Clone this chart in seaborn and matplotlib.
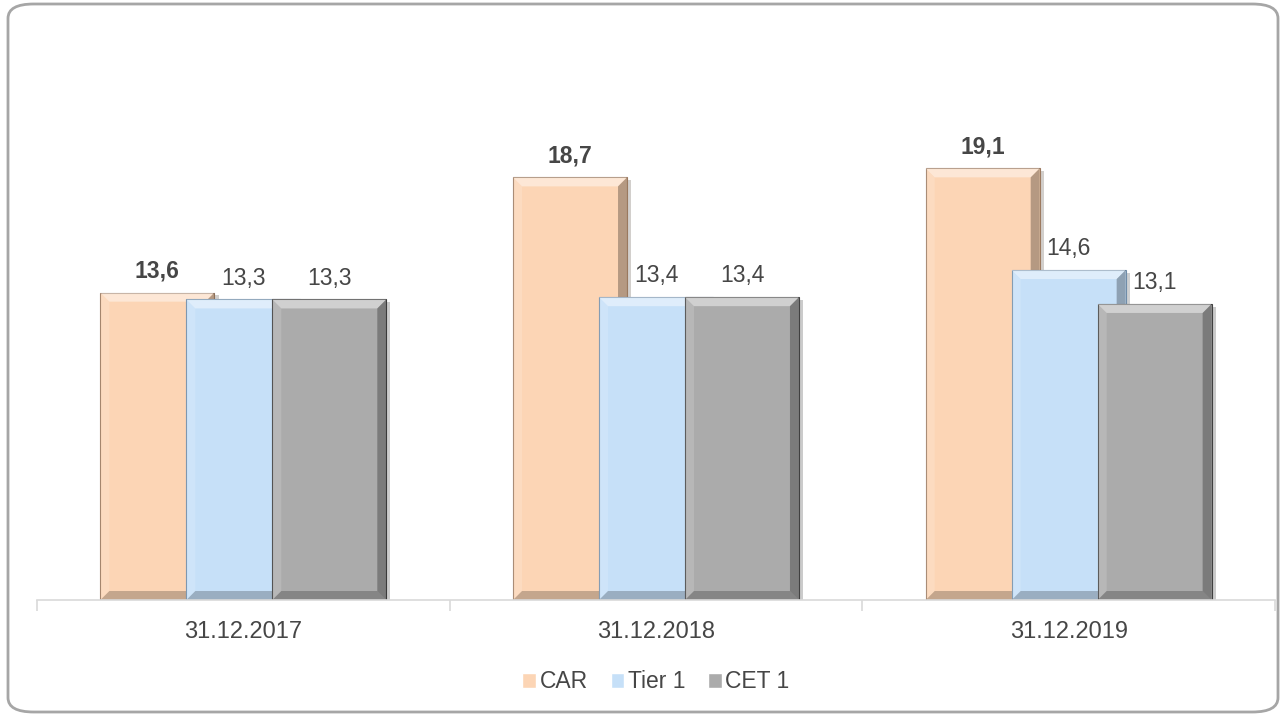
import pandas as pd
import numpy as np
import matplotlib.pyplot as plt
import matplotlib.patheffects as pe
from matplotlib.patches import FancyBboxPatch, Polygon
import seaborn as sns

# data
dates = ['31.12.2017', '31.12.2018', '31.12.2019']
series = ['CAR', 'Tier 1', 'CET 1']
car = [13.6, 18.7, 19.1]
tier1 = [13.3, 13.4, 14.6]
cet1 = [13.3, 13.4, 13.1]

colors = ['#FCD5B5', '#C6E0F8', '#ABABAB']
edges = ['#9C7A60', '#6F8CA8', '#404040']

df = pd.DataFrame({
    'date': dates * 3,
    'series': [s for s in series for _ in dates],
    'value': car + tier1 + cet1,
})

sns.set_style('white')
plt.rcParams['font.family'] = ['Liberation Sans', 'DejaVu Sans']
txt = '#464646'

fig = plt.figure(figsize=(12.86, 7.16), dpi=100)
ax = fig.add_axes([37 / 1286, 116 / 716, 1238 / 1286, 565 / 716])

sns.barplot(data=df, x='date', y='value', hue='series', hue_order=series,
            palette=colors, width=0.625, saturation=1, ax=ax, legend=True)

ax.set_xlim(-0.5, 2.5)
ax.set_ylim(0, 25)

# bevel size in data units (about 9 px)
bx = 9 / 412.7
by = 9 / 22.6


def bevel(x0, x1, top, z):
    shapes = [
        ([(x0, top), (x1, top), (x1 - bx, top - by), (x0 + bx, top - by)], 'white', 0.45),
        ([(x0, 0), (x0, top), (x0 + bx, top - by), (x0 + bx, by)], 'white', 0.15),
        ([(x1, 0), (x1, top), (x1 - bx, top - by), (x1 - bx, by)], 'black', 0.28),
        ([(x0, 0), (x1, 0), (x1 - bx, by), (x0 + bx, by)], 'black', 0.22),
    ]
    for pts, c, a in shapes:
        ax.add_patch(Polygon(pts, closed=True, facecolor=c, alpha=a,
                             edgecolor='none', zorder=z + 0.01))


# Excel-style overlapping bars: widen each bar around its centre
bar_w = 114 / 412.7
for i, cont in enumerate(ax.containers):
    for j, p in enumerate(cont.patches):
        cx = p.get_x() + p.get_width() / 2
        p.set_x(cx - bar_w / 2)
        p.set_width(bar_w)
        p.set_edgecolor(edges[i])
        p.set_linewidth(0.8)
        z = 2 + i
        p.set_zorder(z)
        p.set_path_effects([pe.SimplePatchShadow(offset=(3, -2), alpha=0.25), pe.Normal()])
        val = cont.datavalues[j]
        bevel(cx - bar_w / 2, cx + bar_w / 2, val, z)
        ax.annotate(f'{val:.1f}'.replace('.', ','), (cx, val), xytext=(0, 7),
                    textcoords='offset points', ha='center', va='bottom',
                    fontsize=16.5, color=txt,
                    fontweight='bold' if i == 0 else 'normal')

ax.set_xlabel('')
ax.set_ylabel('')
ax.set_yticks([])
for s in ['top', 'right', 'left']:
    ax.spines[s].set_visible(False)
ax.spines['bottom'].set_color('#D9D9D9')
ax.spines['bottom'].set_linewidth(1.2)
ax.spines['bottom'].set_zorder(10)
ax.set_xticks([-0.5, 0.5, 1.5, 2.5], minor=True)
ax.tick_params(axis='x', which='minor', length=8, color='#D9D9D9', width=1.2, bottom=True)
ax.tick_params(axis='x', which='major', length=0, labelsize=17, labelcolor=txt, pad=15)

ax.legend(loc='center', bbox_to_anchor=(0.5, -0.145), ncol=3, frameon=False,
          fontsize=16.5, labelcolor=txt, handlelength=0.6, handleheight=0.6,
          handletextpad=0.15, columnspacing=1.0)

# rounded chart frame
frame = FancyBboxPatch((8 / 1286, 4 / 716), 1270 / 1286, 708 / 716,
                       boxstyle='round,pad=0,rounding_size=0.02',
                       transform=fig.transFigure, fill=False,
                       edgecolor='#A6A6A6', linewidth=2)
fig.patches.append(frame)

fig.savefig('out.png', dpi=100)
